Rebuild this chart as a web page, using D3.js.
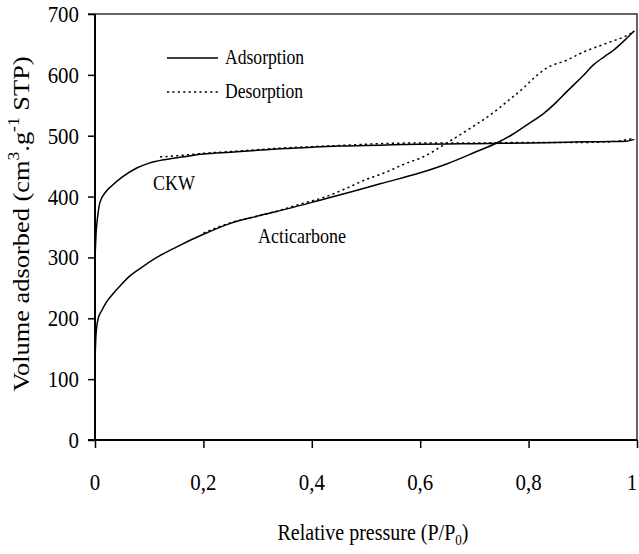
<!DOCTYPE html>
<html lang="en">
<head>
  <meta charset="utf-8">
  <title>N2 isotherms</title>
  <script src="https://cdn.jsdelivr.net/npm/d3@7/dist/d3.min.js"></script>
  <style>
    html, body { margin: 0; padding: 0; background: #fff; }
  </style>
</head>
<body>
  <svg id="chart" width="639" height="554" font-family="'Liberation Serif', 'DejaVu Serif', serif"></svg>

  <script>
    // ---- data ----
    const xTicks = [0, 0.2, 0.4, 0.6, 0.8, 1];
    const xTickLabels = ['0', '0,2', '0,4', '0,6', '0,8', '1'];
    const yTicks = [0, 100, 200, 300, 400, 500, 600, 700];

    const ckwAdsP = [0, 0.002, 0.005, 0.009, 0.02, 0.03, 0.05, 0.077, 0.1, 0.13, 0.16, 0.2, 0.25, 0.3, 0.35, 0.4, 0.45, 0.5, 0.55, 0.6, 0.65, 0.7, 0.75, 0.8, 0.85, 0.9, 0.95, 0.98, 0.995];
    const ckwAdsV = [300, 340, 368, 390, 408, 417, 432, 447, 455, 461, 465, 470, 473, 476, 479, 481, 483, 484, 485, 486, 486.5, 487, 487.5, 488, 489, 490, 490.5, 491, 494];

    const ckwDesP = [0.995, 0.95, 0.9, 0.85, 0.8, 0.75, 0.7, 0.65, 0.6, 0.55, 0.5, 0.45, 0.4, 0.35, 0.3, 0.25, 0.2, 0.15, 0.12];
    const ckwDesV = [496, 490, 489, 489, 489, 488.5, 488, 488, 488, 487.5, 486, 484, 482, 480, 477, 474, 471, 467, 465];

    const actiAdsP = [0, 0.002, 0.006, 0.012, 0.02, 0.031, 0.045, 0.065, 0.085, 0.114, 0.15, 0.2, 0.25, 0.3, 0.36, 0.415, 0.47, 0.526, 0.6, 0.65, 0.704, 0.741, 0.77, 0.797, 0.827, 0.85, 0.87, 0.9, 0.919, 0.94, 0.956, 0.975, 0.99, 0.995];
    const actiAdsV = [130, 175, 200, 212, 225, 238, 252, 270, 283, 300, 317, 338, 356, 368, 381, 394, 407, 421, 439, 454, 474, 488, 502, 518, 536, 554, 572, 598, 616, 630, 640, 655, 668, 672];

    const actiDesP = [0.995, 0.99, 0.944, 0.9, 0.87, 0.833, 0.81, 0.79, 0.76, 0.741, 0.692, 0.649, 0.605, 0.575, 0.531, 0.5, 0.46, 0.42, 0.38, 0.34, 0.3, 0.25, 0.2];
    const actiDesV = [672, 669, 652, 637, 624, 611, 595, 578, 556, 542, 512, 488, 465, 455, 438, 428, 412, 398, 388, 377, 368, 357, 340];

    // ---- layout ----
    const L = 95, R = 637, T = 14, B = 440;
    const svg = d3.select('#chart');

    const x = d3.scaleLinear().domain([0, 1]).range([L, R]);
    const y = d3.scaleLinear().domain([0, 700]).range([B, T]);

    // condensed serif text helper
    function txt (g, px, py, str, size, sx, anchor) {
      return g.append('text')
        .attr('transform', `translate(${px},${py}) scale(${sx},1)`)
        .attr('font-size', size)
        .attr('text-anchor', anchor || 'start')
        .text(str);
    }

    // frame: top + right
    svg.append('path')
      .attr('d', `M${L - 7},${T}H${R}V${B}`)
      .attr('fill', 'none').attr('stroke', '#333').attr('stroke-width', 1.5);

    // y axis
    const yAxis = svg.append('g')
      .attr('transform', `translate(${L},0)`)
      .call(d3.axisLeft(y).tickValues(yTicks).tickSize(7).tickFormat(''));
    yAxis.select('.domain').attr('stroke-width', 2).attr('d', `M0,${T}V${B}`);
    yAxis.selectAll('.tick line').attr('stroke-width', 1.5);

    // x axis
    const xAxis = svg.append('g')
      .attr('transform', `translate(0,${B})`)
      .call(d3.axisBottom(x).tickValues(xTicks).tickSize(8).tickFormat(''));
    xAxis.select('.domain').attr('stroke-width', 2).attr('d', `M${L - 7},0H${R}`);
    xAxis.selectAll('.tick line').attr('stroke-width', 1.5);

    // tick labels
    yTicks.forEach(v => txt(svg, 79, y(v) + 8, String(v), 24, 0.87, 'end'));
    xTicks.forEach((v, i) => txt(svg, Math.min(x(v), 632), 490, xTickLabels[i], 24, 0.87, 'middle'));

    // axis titles
    const xt = txt(svg, 373, 540, 'Relative pressure (P/P', 23, 0.87, 'middle');
    xt.append('tspan').attr('font-size', 15).attr('dy', 5).text('0');
    xt.append('tspan').attr('dy', -5).text(')');

    const yt = svg.append('text')
      .attr('transform', 'translate(29,224) rotate(-90) scale(1.1,1)')
      .attr('font-size', 24)
      .attr('text-anchor', 'middle');
    yt.append('tspan').text('Volume adsorbed (cm');
    yt.append('tspan').attr('font-size', 16).attr('dy', -10).text('3');
    yt.append('tspan').attr('dy', 10).text('.g');
    yt.append('tspan').attr('font-size', 16).attr('dy', -10).text('-1');
    yt.append('tspan').attr('dy', 10).text(' STP)');

    // curves
    const line = d3.line().x(d => x(d[0])).y(d => y(d[1])).curve(d3.curveMonotoneX);
    const zip = (a, b) => a.map((p, i) => [p, b[i]]);
    const curves = [
      { d: zip(ckwDesP, ckwDesV).reverse(), dash: '2.2,3.2' },
      { d: zip(actiDesP, actiDesV).reverse(), dash: '2.2,3.2' },
      { d: zip(ckwAdsP, ckwAdsV), dash: null },
      { d: zip(actiAdsP, actiAdsV), dash: null }
    ];
    svg.append('g').selectAll('path')
      .data(curves)
      .join('path')
        .attr('fill', 'none')
        .attr('stroke', '#000')
        .attr('stroke-width', 1.5)
        .attr('stroke-dasharray', d => d.dash)
        .attr('d', d => line(d.d));

    // legend
    svg.append('line').attr('x1', 167).attr('x2', 218).attr('y1', 58).attr('y2', 58)
      .attr('stroke', '#000').attr('stroke-width', 1.5);
    svg.append('line').attr('x1', 167).attr('x2', 218).attr('y1', 92).attr('y2', 92)
      .attr('stroke', '#000').attr('stroke-width', 1.5).attr('stroke-dasharray', '2.2,3.2');
    txt(svg, 225, 64, 'Adsorption', 20, 0.88);
    txt(svg, 225, 98, 'Desorption', 20, 0.88);

    // series labels
    txt(svg, 153, 190, 'CKW', 22, 0.82);
    txt(svg, 258, 243, 'Acticarbone', 22, 0.82);
  </script>
</body>
</html>
